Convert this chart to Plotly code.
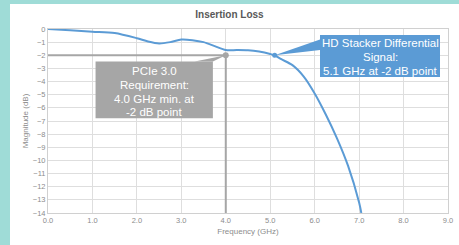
import plotly.graph_objects as go

# Data
freq_ghz = [0, 0.5, 1.0, 1.5, 2.0, 2.25, 2.5, 2.75, 3.0, 3.25, 3.5, 3.75, 4.0, 4.25, 4.5, 4.75, 5.0, 5.1,
            5.25, 5.5, 5.75, 6.0, 6.25, 6.5, 6.75, 7.0, 7.05]
magnitude_db = [0, -0.1, -0.2, -0.3, -0.7, -0.95, -1.1, -1.0, -0.8, -0.85, -1.0, -1.3, -1.6, -1.6, -1.62, -1.72, -1.9, -2.0,
                -2.3, -2.75, -3.6, -4.9, -6.5, -8.3, -10.4, -13.2, -14.0]

pcie_req = (4.0, -2.0)
hd_point = (5.1, -2.0)
pcie_lines = ["PCIe 3.0", "Requirement:", "4.0 GHz min. at", "-2 dB point"]
hd_lines = ["HD Stacker Differential", "Signal:", "5.1 GHz at -2 dB point"]

x_ticks = [0, 1, 2, 3, 4, 5, 6, 7, 8, 9]
x_tick_labels = ["0.0", "1.0", "2.0", "3.0", "4.0", "5.0", "6.0", "7.0", "8.0", "9.0"]
y_ticks = list(range(0, -15, -1))

BLUE = "#5b9bd5"
GRAY = "#a6a6a6"
TEAL = "#9fdcd7"

fig = go.Figure()

# PCIe requirement lines
fig.add_trace(go.Scatter(x=[0, pcie_req[0], pcie_req[0]], y=[pcie_req[1], pcie_req[1], -14],
                         mode="lines", line=dict(color=GRAY, width=2), hoverinfo="skip", showlegend=False))
fig.add_trace(go.Scatter(x=[pcie_req[0]], y=[pcie_req[1]], mode="markers",
                         marker=dict(color=GRAY, size=6), showlegend=False))

# Curve
fig.add_trace(go.Scatter(x=freq_ghz, y=magnitude_db, mode="lines",
                         line=dict(color=BLUE, width=2, shape="spline", smoothing=0.8), showlegend=False))
fig.add_trace(go.Scatter(x=[hd_point[0]], y=[hd_point[1]], mode="markers",
                         marker=dict(color=BLUE, size=5), showlegend=False))

# Callout boxes (data coords)
gray_box = dict(x0=1.07, x1=3.71, y0=-2.48, y1=-6.8)
blue_box = dict(x0=6.12, x1=8.82, y0=-0.45, y1=-3.65)
gray_line_y = [-3.23, -4.26, -5.29, -6.32]
blue_line_y = [-1.05, -2.12, -3.19]

shapes = [
    dict(type="rect", xref="paper", yref="paper", x0=-0.095, x1=1.2, y0=-0.3, y1=1.136,
         fillcolor="white", line=dict(width=0), layer="below"),
    dict(type="rect", x0=gray_box["x0"], x1=gray_box["x1"], y0=gray_box["y0"], y1=gray_box["y1"],
         fillcolor=GRAY, line=dict(width=0), layer="above"),
    dict(type="path", path=f"M {3.3},{gray_box['y0']} L {pcie_req[0]},{pcie_req[1]} L {gray_box['x1']},{gray_box['y0']} Z",
         fillcolor=GRAY, line=dict(width=0), layer="above"),
    dict(type="rect", x0=blue_box["x0"], x1=blue_box["x1"], y0=blue_box["y0"], y1=blue_box["y1"],
         fillcolor=BLUE, line=dict(width=0), layer="above"),
    dict(type="path", path=f"M {blue_box['x0']},{-0.8} L {hd_point[0]},{hd_point[1]} L {blue_box['x0']},{-1.6} Z",
         fillcolor=BLUE, line=dict(width=0), layer="above"),
]

annotations = []
gx = (gray_box["x0"] + gray_box["x1"]) / 2
for txt, yy in zip(pcie_lines, gray_line_y):
    annotations.append(dict(x=gx, y=yy, text=txt, showarrow=False, yanchor="middle",
                            font=dict(family="Liberation Sans, Arial", size=11.5, color="white")))
bx = (blue_box["x0"] + blue_box["x1"]) / 2
for txt, yy in zip(hd_lines, blue_line_y):
    annotations.append(dict(x=bx, y=yy, text=txt, showarrow=False, yanchor="middle",
                            font=dict(family="Liberation Sans, Arial", size=11.5, color="white")))

fig.update_layout(
    width=459, height=245,
    margin=dict(l=48, r=11, t=29, b=32),
    paper_bgcolor=TEAL, plot_bgcolor="white",
    title=dict(text="<b>Insertion Loss</b>", x=0.5, xanchor="center", y=0.94, yanchor="middle",
               font=dict(family="Liberation Sans, Arial", size=10, color="#595959")),
    font=dict(family="Liberation Sans, Arial", size=8, color="#8c8c8c"),
    shapes=shapes, annotations=annotations,
    xaxis=dict(range=[0, 9], tickvals=x_ticks, ticktext=x_tick_labels, showgrid=True, gridcolor="#dedede",
               gridwidth=1, zeroline=False, showline=True, linecolor="#d0d0d0", mirror=True, automargin=False,
               title=dict(text="Frequency (GHz)", standoff=4, font=dict(size=8, color="#8c8c8c")),
               ticks="", tickfont=dict(size=7.5)),
    yaxis=dict(range=[-14, 0], tickvals=y_ticks, showgrid=True, gridcolor="#dedede", gridwidth=1,
               zeroline=False, showline=True, linecolor="#d0d0d0", mirror=True, automargin=False,
               title=dict(text="Magnitude (dB)", standoff=2, font=dict(size=8, color="#8c8c8c")),
               ticks="", tickfont=dict(size=7.5)),
)

fig.write_html("out.html", config={"displayModeBar": False},
               post_script="document.body.style.margin='0';document.body.style.overflow='hidden';")
